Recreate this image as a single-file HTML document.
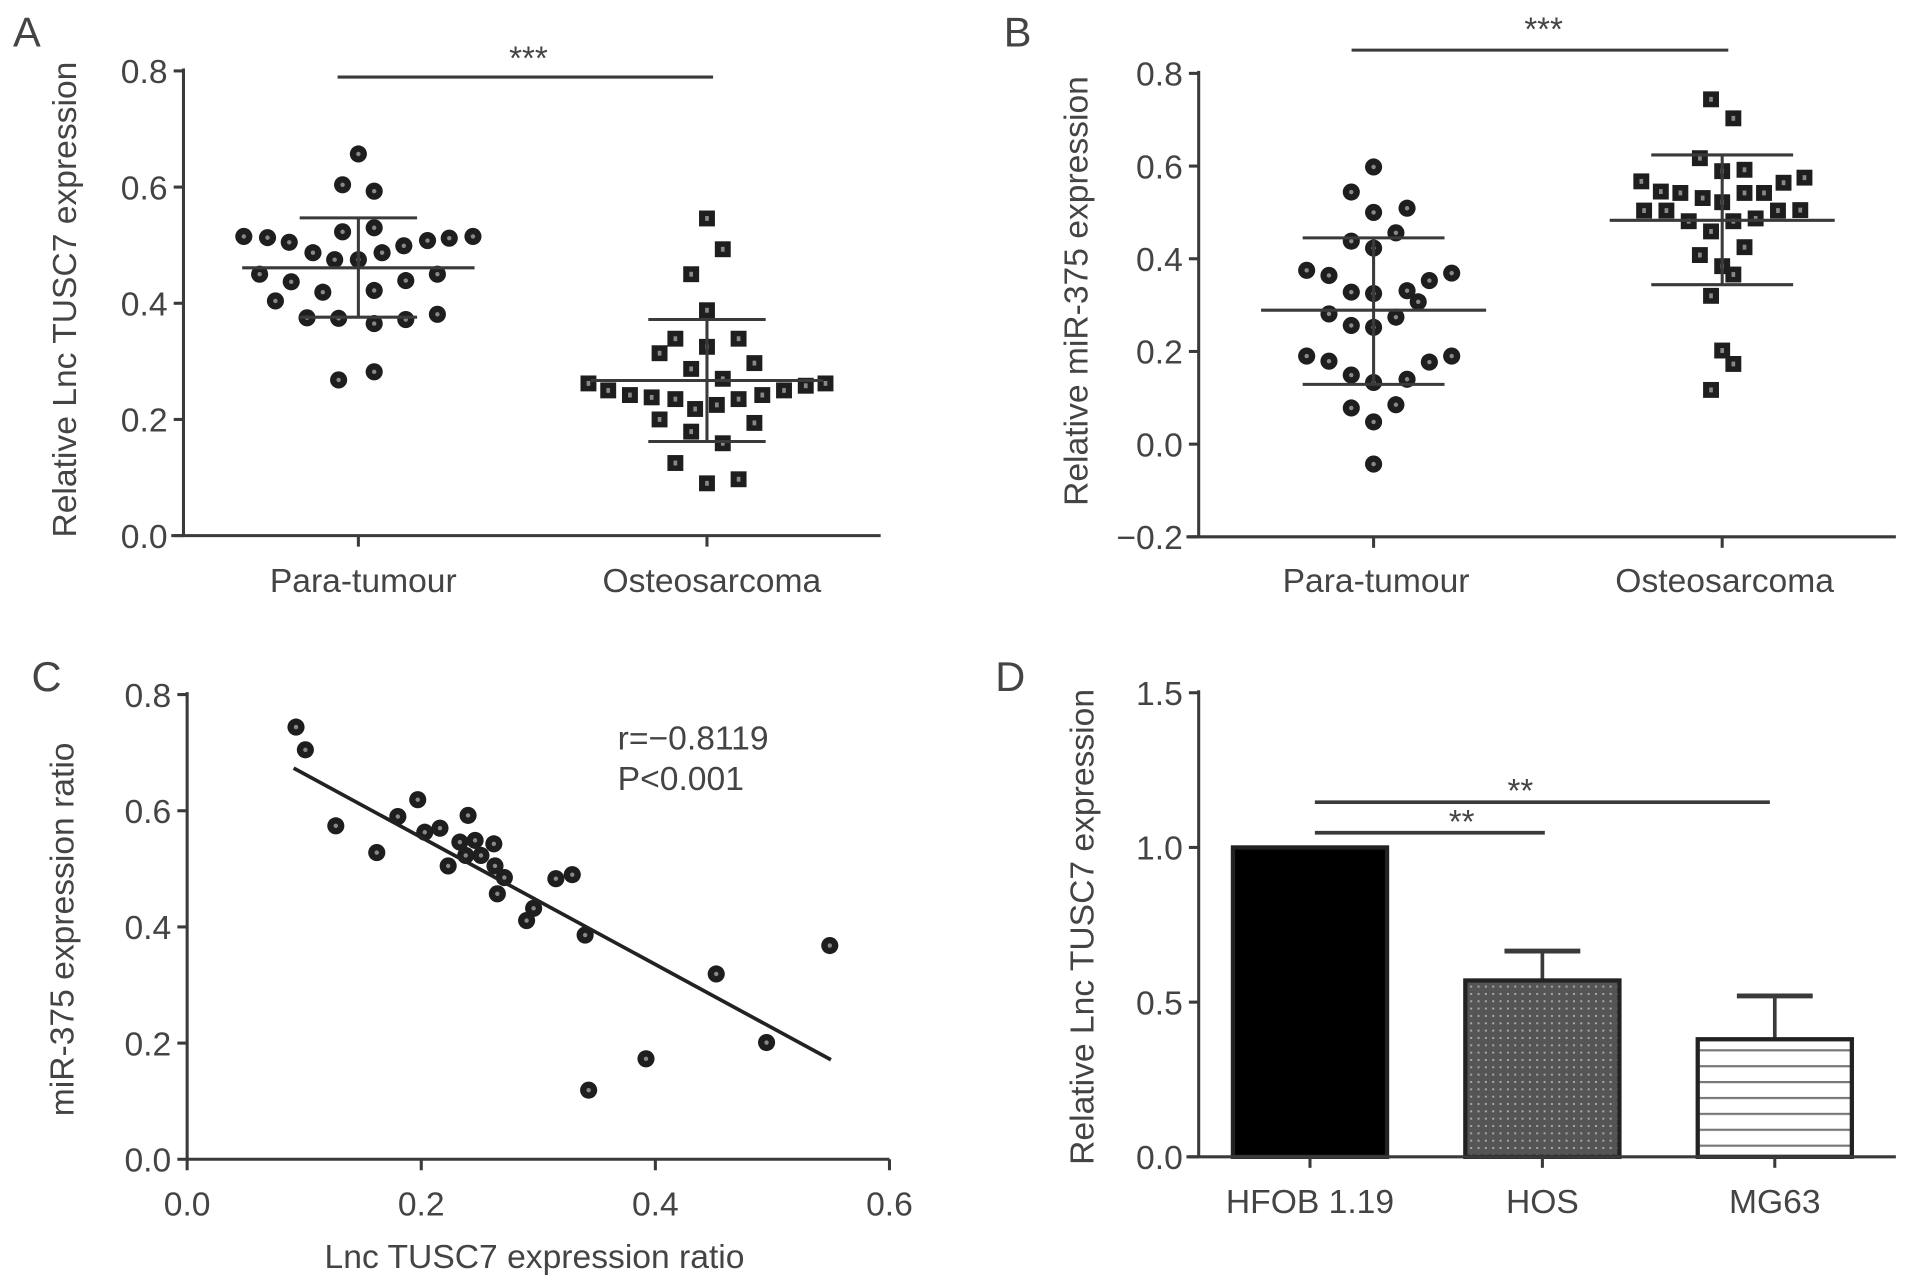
<!DOCTYPE html>
<html><head><meta charset="utf-8"><style>
html,body{margin:0;padding:0;background:#fff}
svg{display:block}
text{font-family:"Liberation Sans",sans-serif;fill:#444}
</style></head><body>
<svg id="fig" width="1913" height="1284" viewBox="0 0 1564 1050" preserveAspectRatio="none" xmlns="http://www.w3.org/2000/svg"></svg>
<script>
// ---- Panel A data ----
const aCategories = ["Para-tumour","Osteosarcoma"];
const aParaValues = [0.657,0.604,0.593,0.523,0.530,0.515,0.513,0.505,0.487,0.475,0.475,0.487,0.499,0.508,0.512,0.515,0.450,0.437,0.419,0.422,0.439,0.450,0.404,0.375,0.374,0.365,0.372,0.381,0.268,0.282];
const aParaJitter = [0,-0.08,0.08,-0.08,0.08,-0.58,-0.46,-0.35,-0.23,-0.12,0,0.12,0.23,0.35,0.46,0.58,-0.5,-0.34,-0.18,0.08,0.24,0.4,-0.42,-0.26,-0.1,0.08,0.24,0.4,-0.1,0.08];
const aParaStats = [0.461,0.547,0.376];
const aOsteoValues = [0.546,0.493,0.450,0.388,0.339,0.339,0.314,0.325,0.297,0.287,0.270,0.262,0.250,0.242,0.238,0.235,0.218,0.225,0.235,0.242,0.250,0.258,0.262,0.200,0.194,0.179,0.159,0.125,0.090,0.097];
const aOsteoJitter = [0,0.08,-0.08,0,-0.16,0.16,-0.24,0,0.24,-0.08,0.08,-0.6,-0.5,-0.39,-0.28,-0.16,-0.06,0.05,0.16,0.28,0.39,0.5,0.6,-0.24,0.24,-0.08,0.08,-0.16,0,0.16];
const aOsteoStats = [0.267,0.372,0.162];
const aTicks = [0,0.2,0.4,0.6,0.8];
// ---- Panel B data ----
const bCategories = ["Para-tumour","Osteosarcoma"];
const bParaValues = [0.598,0.544,0.500,0.509,0.456,0.438,0.423,0.375,0.364,0.369,0.353,0.328,0.325,0.331,0.307,0.281,0.274,0.256,0.252,0.190,0.179,0.177,0.190,0.149,0.133,0.140,0.078,0.085,0.048,-0.043];
const bParaJitter = [0,-0.16,0,0.24,0.16,-0.16,0,-0.48,-0.32,0.56,0.4,-0.16,0,0.24,0.32,-0.32,0.16,-0.16,0,-0.48,-0.32,0.4,0.56,-0.16,0,0.24,-0.16,0.16,0,0];
const bParaStats = [0.289,0.445,0.129];
const bOsteoValues = [0.744,0.703,0.617,0.589,0.592,0.567,0.545,0.542,0.531,0.522,0.542,0.542,0.564,0.575,0.504,0.504,0.481,0.459,0.481,0.487,0.504,0.505,0.425,0.408,0.384,0.366,0.320,0.202,0.173,0.117];
const bOsteoJitter = [-0.08,0.08,-0.16,0,0.16,-0.58,-0.44,-0.3,-0.14,0,0.16,0.3,0.44,0.59,-0.56,-0.4,-0.24,-0.08,0.08,0.24,0.4,0.56,0.16,-0.16,0,0.08,-0.08,0,0.08,-0.08];
const bOsteoStats = [0.483,0.624,0.344];
const bTicks = [-0.2,0,0.2,0.4,0.6,0.8];
// ---- Panel C data ----
const cX = [0.093,0.101,0.127,0.162,0.180,0.197,0.203,0.216,0.240,0.233,0.246,0.262,0.223,0.238,0.251,0.263,0.271,0.265,0.290,0.296,0.315,0.329,0.340,0.343,0.392,0.452,0.495,0.549];
const cY = [0.744,0.705,0.574,0.528,0.590,0.619,0.563,0.570,0.592,0.546,0.549,0.543,0.505,0.523,0.523,0.505,0.485,0.457,0.411,0.432,0.483,0.490,0.386,0.119,0.173,0.319,0.201,0.368];
const cFit = [-1.094,0.773];
const cFitRange = [0.091,0.550];
const cXTicks = [0,0.2,0.4,0.6];
const cYTicks = [0,0.2,0.4,0.6,0.8];
// ---- Panel D data ----
const dCategories = ["HFOB 1.19","HOS","MG63"];
const dValues = [1.0,0.57,0.38];
const dErrors = [0,0.095,0.14];
const dTicks = [0,0.5,1.0,1.5];

const svg = document.getElementById('fig');
const NS = 'http://www.w3.org/2000/svg';
const FS = 27.5;
function mk(tag, attrs, parent){
  const e = document.createElementNS(NS, tag);
  for (const k in attrs) e.setAttribute(k, attrs[k]);
  (parent||svg).appendChild(e);
  return e;
}
const AX = '#3a3a3a';
function line(x1,y1,x2,y2,name,w){
  const e = mk('line',{x1,y1,x2,y2,stroke:AX,'stroke-width':w||2.5});
  
  
  return e;
}
function txt(x,y,s,size,anchor,name,extra){
  const e = mk('text',Object.assign({x,y,'font-size':size,'text-anchor':anchor||'middle'},extra||{}));
  e.textContent = s;
  
  
  return e;
}
function circle(cx,cy,name){
  const g = mk('g',{});
  
  
  mk('circle',{cx,cy,r:7,fill:'#1e1e1e'},g);
  mk('circle',{cx,cy,r:1.8,fill:'#888'},g);
}
function square(cx,cy,name){
  const g = mk('g',{});
  
  
  mk('rect',{x:cx-6.5,y:cy-6.5,width:13,height:13,fill:'#1e1e1e'},g);
  mk('rect',{x:cx-1.5,y:cy-2,width:3,height:4,fill:'#888'},g);
}
function yAxis(x, yScale, ticks, fmt, labelName){
  for(const t of ticks){
    const y = yScale(t);
    line(x-8,y,x,y,labelName+'-tick');
    txt(x-13,y+10,fmt(t),FS,'end',labelName+'-tick-label');
  }
}
const f1 = v => (v<0?'\u2212'+Math.abs(v).toFixed(1):v.toFixed(1));

// ===== Panel A =====
{
  const ax=150, y0=438, k=475, cx=[293,578], half=95;
  const ys = v => y0 - v*k;
  txt(22,38,'A',34,'middle','panel-a-label');
  line(ax,ys(0.8)-2,ax,y0+1,'panel-a-y-axis');
  line(140,y0,720,y0,'panel-a-x-axis');
  yAxis(ax,ys,aTicks,f1,'panel-a-y');
  aCategories.forEach((c,i)=>{ line(cx[i],y0,cx[i],y0+9,'panel-a-x-tick'); txt(cx[i]+4,484,c,FS,'middle','panel-a-x-label'); });
  txt(0,0,'Relative Lnc TUSC7 expression',FS,'middle','panel-a-y-title',{transform:'translate(62,245) rotate(-90)'});
  line(276,63,583,63,'panel-a-significance-bar');
  txt(432,57,'***',27,'middle','panel-a-significance-stars');
  aParaValues.forEach((v,i)=>circle(cx[0]+aParaJitter[i]*half*1.7,ys(v),'panel-a-para-point'));
  aOsteoValues.forEach((v,i)=>square(cx[1]+aOsteoJitter[i]*half*1.7,ys(v),'panel-a-osteo-point'));
  [[aParaStats,0],[aOsteoStats,1]].forEach(([s,i])=>{
    line(cx[i]-95,ys(s[0]),cx[i]+95,ys(s[0]),'panel-a-mean-line');
    line(cx[i]-48,ys(s[1]),cx[i]+48,ys(s[1]),'panel-a-sd-cap');
    line(cx[i]-48,ys(s[2]),cx[i]+48,ys(s[2]),'panel-a-sd-cap');
    line(cx[i],ys(s[1]),cx[i],ys(s[2]),'panel-a-sd-line');
  });
}
// ===== Panel B =====
{
  const ax=980, y0=439, k=379, cx=[1123,1408], half=95;
  const ys = v => y0 - (v+0.2)*k;
  txt(832,38,'B',34,'middle','panel-b-label');
  line(ax,ys(0.8)-2,ax,y0+1,'panel-b-y-axis');
  line(970,y0,1550,y0,'panel-b-x-axis');
  yAxis(ax,ys,bTicks,f1,'panel-b-y');
  bCategories.forEach((c,i)=>{ line(cx[i],y0,cx[i],y0+9,'panel-b-x-tick'); txt(cx[i]+2,484,c,FS,'middle','panel-b-x-label'); });
  txt(0,0,'Relative miR-375 expression',FS,'middle','panel-b-y-title',{transform:'translate(889,238) rotate(-90)'});
  line(1105,41,1413,41,'panel-b-significance-bar');
  txt(1262,33,'***',27,'middle','panel-b-significance-stars');
  bParaValues.forEach((v,i)=>circle(cx[0]+bParaJitter[i]*half*1.2,ys(v),'panel-b-para-point'));
  bOsteoValues.forEach((v,i)=>square(cx[1]+bOsteoJitter[i]*half*1.2,ys(v),'panel-b-osteo-point'));
  [[bParaStats,0],[bOsteoStats,1]].forEach(([s,i])=>{
    line(cx[i]-92,ys(s[0]),cx[i]+92,ys(s[0]),'panel-b-mean-line');
    line(cx[i]-58,ys(s[1]),cx[i]+58,ys(s[1]),'panel-b-sd-cap');
    line(cx[i]-58,ys(s[2]),cx[i]+58,ys(s[2]),'panel-b-sd-cap');
    line(cx[i],ys(s[1]),cx[i],ys(s[2]),'panel-b-sd-line');
  });
}
// ===== Panel C =====
{
  const ax=153, y0=948, xs = v => 153 + v*957, ys = v => y0 - v*475;
  txt(38,565,'C',34,'middle','panel-c-label');
  line(ax,ys(0.8)-2,ax,y0+1,'panel-c-y-axis');
  line(ax-1,y0,xs(0.6),y0,'panel-c-x-axis');
  yAxis(ax,ys,cYTicks,f1,'panel-c-y');
  cXTicks.forEach(t=>{ line(xs(t),y0,xs(t),y0+9,'panel-c-x-tick'); txt(xs(t),994,t.toFixed(1),FS,'middle','panel-c-x-tick-label'); });
  txt(437,1037,'Lnc TUSC7 expression ratio',FS,'middle','panel-c-x-title');
  txt(0,0,'miR-375 expression ratio',FS,'middle','panel-c-y-title',{transform:'translate(60,760) rotate(-90)'});
  cX.forEach((v,i)=>circle(xs(v),ys(cY[i]),'panel-c-point'));
  const fl = line(xs(cFitRange[0]),ys(cFit[0]*cFitRange[0]+cFit[1]),xs(cFitRange[1]),ys(cFit[0]*cFitRange[1]+cFit[1]),'panel-c-regression-line',3);
  fl.setAttribute('stroke','#222');
  txt(505,613,'r=\u22120.8119',FS,'start','panel-c-r-value');
  txt(505,646,'P<0.001',FS,'start','panel-c-p-value');
}
// ===== Panel D =====
{
  const ax=980, y0=946, k=253, cx=[1071,1261,1451], bw=126;
  const ys = v => y0 - v*k;
  txt(826,565,'D',34,'middle','panel-d-label');
  const defs = mk('defs',{});
  const p1 = mk('pattern',{id:'dots',width:6,height:6,patternUnits:'userSpaceOnUse'},defs);
  mk('rect',{width:6,height:6,fill:'#555'},p1);
  mk('rect',{x:2,y:2,width:1.6,height:1.6,fill:'#aaa'},p1);
  const p2 = mk('pattern',{id:'hlines',width:10,height:13,patternUnits:'userSpaceOnUse'},defs);
  mk('rect',{width:10,height:13,fill:'#fff'},p2);
  mk('rect',{y:0,width:10,height:1.8,fill:'#777'},p2);
  const fills=['#000','url(#dots)','url(#hlines)'];
  dValues.forEach((v,i)=>{
    if(dErrors[i]>0){
      line(cx[i],ys(v),cx[i],ys(v+dErrors[i]),'panel-d-error-bar',3);
      line(cx[i]-31,ys(v+dErrors[i]),cx[i]+31,ys(v+dErrors[i]),'panel-d-error-cap',4);
    }
    const r = mk('rect',{x:cx[i]-bw/2,y:ys(v),width:bw,height:v*k,fill:fills[i],stroke:'#222','stroke-width':3.5});
    
    
  });
  line(ax,ys(1.5)-2,ax,y0+1,'panel-d-y-axis');
  line(970,y0,1550,y0,'panel-d-x-axis');
  yAxis(ax,ys,dTicks,f1,'panel-d-y');
  dCategories.forEach((c,i)=>{ line(cx[i],y0,cx[i],y0+9,'panel-d-x-tick'); txt(cx[i],992,c,FS,'middle','panel-d-x-label'); });
  txt(0,0,'Relative Lnc TUSC7 expression',FS,'middle','panel-d-y-title',{transform:'translate(894,758) rotate(-90)'});
  line(1075,681,1263,681,'panel-d-significance-bar-hos',3);
  txt(1195,681,'**',27,'middle','panel-d-significance-stars-hos');
  line(1075,656,1447,656,'panel-d-significance-bar-mg63',3);
  txt(1243,656,'**',27,'middle','panel-d-significance-stars-mg63');
}
</script>
</body></html>
